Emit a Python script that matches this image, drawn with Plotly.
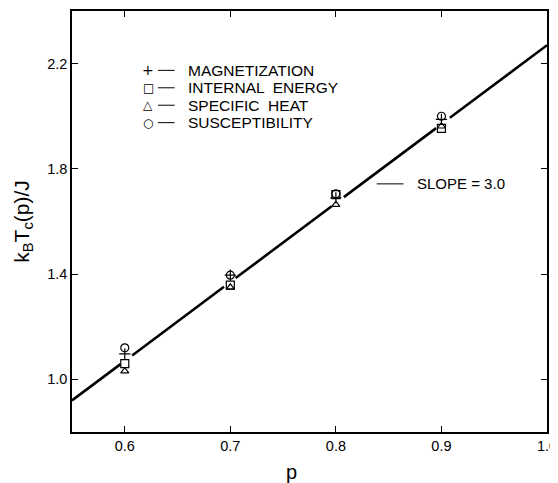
import plotly.graph_objects as go

# Data
p_vals = [0.6, 0.7, 0.8, 0.9]
magnetization = [1.097, 1.396, 1.690, 1.988]
internal_energy = [1.060, 1.358, 1.702, 1.954]
specific_heat = [1.031, 1.350, 1.664, 1.962]
susceptibility = [1.120, 1.396, 1.705, 2.000]

# Fitted line (slope = 3.0), drawn with small breaks at the data points
fit_p = [0.55, 0.596, None, 0.607, 0.694, None, 0.705, 0.796, None, 0.8075, 0.895, None, 0.908, 1.0]
fit_y = [0.92, 1.058, None, 1.091, 1.352, None, 1.385, 1.658, None, 1.6925, 1.955, None, 1.994, 2.27]

x_ticks = [0.6, 0.7, 0.8, 0.9, 1.0]
x_tick_labels = ["0.6", "0.7", "0.8", "0.9", "1.0"]
y_ticks = [1.0, 1.4, 1.8, 2.2]
y_tick_labels = ["1.0", "1.4", "1.8", "2.2"]

legend_symbols = ["+", "\u25A1", "\u25B3", "\u25CB"]
legend_labels = ["MAGNETIZATION", "INTERNAL  ENERGY", "SPECIFIC  HEAT", "SUSCEPTIBILITY"]

FONT = "Liberation Sans, Arial, Helvetica, sans-serif"

fig = go.Figure()

fig.add_trace(go.Scatter(x=fit_p, y=fit_y, mode="lines",
                         line=dict(color="black", width=2.6),
                         showlegend=False, connectgaps=False, hoverinfo="skip"))

series = [
    ("MAGNETIZATION", magnetization, "cross-thin-open", 8),
    ("INTERNAL ENERGY", internal_energy, "square-open", 8),
    ("SPECIFIC HEAT", specific_heat, "triangle-up-open", 7),
    ("SUSCEPTIBILITY", susceptibility, "circle-open", 8),
]
for name, vals, sym, size in series:
    fig.add_trace(go.Scatter(
        x=p_vals, y=vals, mode="markers", name=name, showlegend=False,
        marker=dict(symbol=sym, size=size, color="black",
                    line=dict(color="black", width=1.2)),
    ))

# Hand-drawn style legend (symbol, short dash, label)
row_y0 = 0.859   # paper y of first row
row_dy = 0.0414  # paper spacing between rows
for i, (sym, lab) in enumerate(zip(legend_symbols, legend_labels)):
    yy = row_y0 - i * row_dy
    fig.add_annotation(x=0.160, y=yy, xref="paper", yref="paper", text=sym,
                       showarrow=False, xanchor="center", yanchor="middle",
                       font=dict(family="DejaVu Sans", size=12 if i else 14, color="black"))
    fig.add_shape(type="line", x0=0.181, x1=0.216, y0=yy, y1=yy,
                  xref="paper", yref="paper", line=dict(color="black", width=1))
    fig.add_annotation(x=0.239, y=yy, xref="paper", yref="paper", text=lab,
                       showarrow=False, xanchor="left", yanchor="middle",
                       font=dict(family=FONT, size=15.5, color="black"))

# SLOPE annotation
fig.add_shape(type="line", x0=0.8387, x1=0.864, y0=1.743, y1=1.743,
              xref="x", yref="y", line=dict(color="black", width=1))
fig.add_annotation(x=0.8745, y=1.743, xref="x", yref="y", text="SLOPE = 3.0",
                   showarrow=False, xanchor="left", yanchor="middle",
                   font=dict(family=FONT, size=15, color="black"))

# x-axis title
fig.add_annotation(x=0.758, y=-0.065, xref="x", yref="paper", text="p",
                   showarrow=False, xanchor="center", yanchor="top",
                   font=dict(family=FONT, size=20, color="black"))

axis_common = dict(showline=True, linecolor="black", linewidth=1.5, mirror="ticks",
                   ticks="inside", ticklen=6, tickwidth=1.2, tickcolor="black",
                   showgrid=False, zeroline=False, ticklabeloverflow="allow",
                   tickfont=dict(family=FONT, size=14.5, color="black"))

fig.update_xaxes(range=[0.55, 1.0], tickvals=x_ticks, ticktext=x_tick_labels, **axis_common)
fig.update_yaxes(range=[0.8, 2.4], tickvals=y_ticks, ticktext=y_tick_labels,
                 title=dict(text="k<sub>B</sub>T<sub>c</sub>(p)/J", standoff=12,
                            font=dict(family=FONT, size=21, color="black")),
                 **axis_common)

fig.update_layout(
    width=550, height=475,
    margin=dict(l=64, r=9, t=1, b=51),
    paper_bgcolor="white", plot_bgcolor="white",
    font=dict(family=FONT, color="black"),
    showlegend=False,
)

fig.write_html("out.html")
